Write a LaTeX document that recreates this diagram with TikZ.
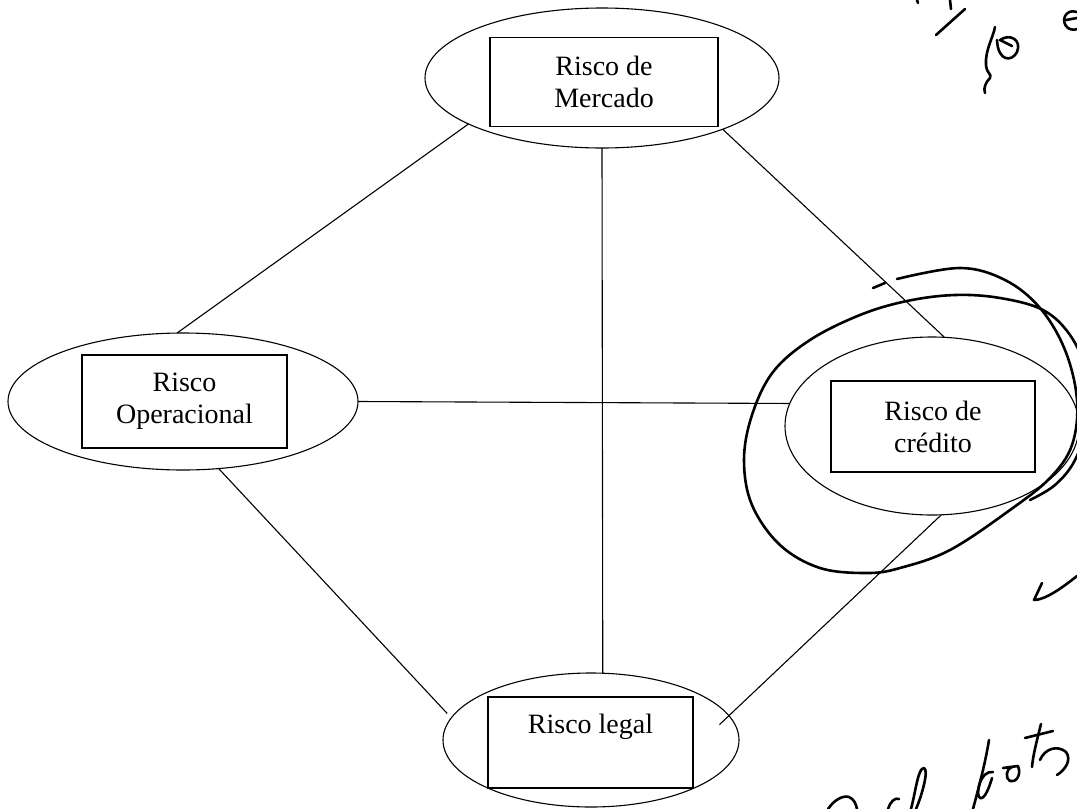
\documentclass[tikz,border=0pt]{standalone}
\usepackage{fontspec}
\setmainfont{Liberation Serif}
\usetikzlibrary{shapes.geometric}
\begin{document}
\begin{tikzpicture}[x=1pt,y=-1pt,
  oval/.style={draw, ellipse, inner sep=0pt, outer sep=0pt, line width=1.1pt},
  lbl/.style={draw, rectangle, inner sep=0pt, outer sep=0pt, line width=1.1pt, align=center, font=\fontsize{28}{32}\selectfont},
  conn/.style={line width=1.1pt},
  hand/.style={line width=2.6pt, line cap=round, line join=round}]
\useasboundingbox (0,0) rectangle (1077,809);
\clip (0,0) rectangle (1077,809);
% ellipses
\node[oval, minimum width=354pt, minimum height=140pt] (mE) at (602,78) {};
\node[oval, minimum width=350pt, minimum height=137pt] (oE) at (183,401.5) {};
\node[oval, minimum width=294pt, minimum height=178pt] (cE) at (932,426) {};
\node[oval, minimum width=296pt, minimum height=134pt] (lE) at (591,740) {};
% boxes
\node[lbl, minimum width=228pt, minimum height=89pt] (mB) at (604,82) {Risco de\\Mercado};
\node[lbl, minimum width=205pt, minimum height=93pt] (oB) at (184.5,401.5) {Risco\\Operacional};
\node[lbl, minimum width=204pt, minimum height=91pt] (cB) at (933,426.5) {Risco de\\crédito};
\node[lbl, minimum width=205pt, minimum height=91pt] (lB) at (590.5,742.5) {Risco legal\\\phantom{Rg}};
% connectors
\draw[conn] (mE.199) -- (oE.95);
\draw[conn] (mE.337) -- (cE.82);
\draw[conn] (mE.270) -- (lE.80);
\draw[conn] (oE.0) -- (cE.171);
\draw[conn, shorten >=6pt] (oE.298) -- (lE.171);
\draw[conn, shorten >=-13pt] (cE.276) -- (lE.10);
% handwritten loop around credit risk
\draw[hand] plot[smooth, tension=0.6] coordinates {(897,279) (960,268) (1005,280) (1040,308) (1065,350) (1077,400) (1072,445) (1050,478) (1010,510) (950,550) (900,568) (867,573) (820,568) (780,545) (752,505) (744,460) (752,415) (773,372) (810,340) (860,315) (907,301) (955,295) (1000,298) (1043,310) (1070,335) (1085,370) (1088,420) (1075,460) (1055,485) (1030,500)};
\draw[hand] (873,288) -- (885,283);
% top right scribbles
\draw[hand] (917,0) -- (918,3);
\draw[hand] (950,0) -- (951,9);
\draw[hand] (965,9) -- (936,35);
\draw[hand] (995,27) .. controls (993,38) and (985,50) .. (986,65) .. controls (987,75) and (992,73) .. (990,78) .. controls (986,82) and (983,88) .. (985,93);
\draw[hand] (997,40) .. controls (998,62) and (1012,62) .. (1017,52) .. controls (1022,40) and (1010,33) .. (1000,40) -- (1012,46);
\draw[hand] (1077,12) .. controls (1065,8) and (1060,22) .. (1068,28) .. controls (1071,30) and (1075,30) .. (1077,29);
\draw[hand] (1066,20) -- (1077,18);
% check mark
\draw[hand] (1042,583) -- (1034,600) .. controls (1045,600) and (1062,588) .. (1077,576);
% bottom right handwriting
\draw[hand] (828,809) .. controls (834,800) and (843,795) .. (849,797) .. controls (854,799) and (856,804) .. (857,809);
\draw[hand] (888,809) .. controls (890,802) and (895,797) .. (899,799);
\draw[hand] (911,809) .. controls (916,790) and (918,768) .. (924,768) .. controls (929,770) and (922,795) .. (916,809);
\draw[hand] (989,740) .. controls (985,765) and (978,790) .. (973,809);
\draw[hand] (993,772) .. controls (980,770) and (975,795) .. (980,798) .. controls (985,800) and (990,785) .. (992,778);
\draw[hand] (1003,768) -- (1018,766) .. controls (1022,776) and (1015,783) .. (1010,781) .. controls (1005,779) and (1006,768) .. (1012,767);
\draw[hand] (1041,724) .. controls (1037,740) and (1033,755) .. (1032,767);
\draw[hand] (1025,738) -- (1053,731);
\draw[hand] (1040,760) .. controls (1045,748) and (1058,745) .. (1066,752) .. controls (1072,760) and (1065,770) .. (1057,775);
\end{tikzpicture}
\end{document}
